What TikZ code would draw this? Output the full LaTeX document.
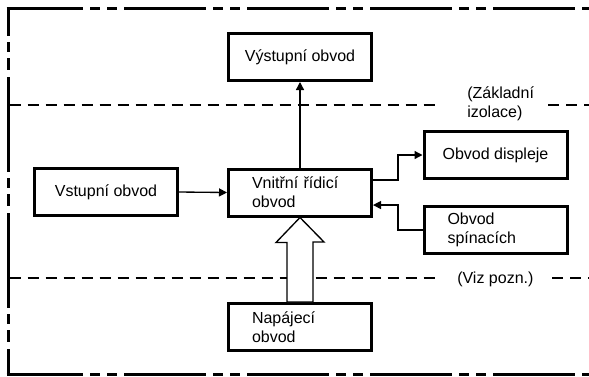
\documentclass[tikz,border=0pt]{standalone}
\usepackage{fontspec}
\setmainfont{Liberation Sans}
\usepackage{tikz}
\usetikzlibrary{arrows.meta}

\begin{document}
\begin{tikzpicture}[
      x=0.75pt, y=-0.75pt,
      every node/.style={font=\fontsize{12}{14.4}\selectfont},
      blok/.style={
        draw, line width=2.25pt, minimum width=107.25pt, minimum height=35.25pt,
        inner sep=0pt
      },
      blokdva/.style={blok, text width=72pt, align=left},
      popis/.style={inner sep=0pt, anchor=west, align=left},
      arrow/.style={line width=1pt, -{Triangle[length=6pt,width=6pt]}},
      izol/.style={line width=1.1pt, dash pattern=on 8.25pt off 5.25pt},
      ramec/.style={
        line width=2.25pt,
        dash pattern=on 61.5pt off 5.25pt on 7.5pt off 5.25pt on 7.5pt off 5.25pt,
        dash phase=4.1pt
      },
      ramecbok/.style={
        line width=2.25pt,
        dash pattern=on 71.25pt off 4.5pt on 7.5pt off 4.5pt on 9pt off 5.25pt,
        dash phase=50.25pt
      },
      dutasipka/.style={line width=1pt, fill=white}
    ]
    \useasboundingbox (0,0) rectangle (589,376);

    \node[blok] (vystup) at (300,57) {Výstupní obvod};
    \node[blokdva] (rizeni) at (300,192.5) {Vnitřní řídicí\\obvod};
    \node[blok] (vstup) at (106,192) {Vstupní obvod};
    \node[blok] (displej) at (495.5,155) {Obvod displeje};
    \node[blokdva] (spinac) at (495.5,230) {Obvod\\spínacích};
    \node[blokdva] (napajeni) at (300,327) {Napájecí\\obvod};

    \node[popis] (izolace) at (467,104) {(Základní\\izolace)};
    \node[popis] (pozn) at (457,279) {(Viz pozn.)};

    % izolacni hranice
    \draw[izol] (9.5,105) -- (438,105) (548,105) -- (589,105);
    \draw[izol] (9.5,278) -- (440,278) (552,278) -- (589,278);

    % napajeni
    \draw[dutasipka] (rizeni.south) -- ++(-24,25) -- ++(11,0)
      -- ([xshift=-9.75pt]napajeni.north) -- ([xshift=9.75pt]napajeni.north)
      -- ++(0,-60) -- ++(11,0) -- cycle;

    \draw[arrow] (vstup.east) -- (rizeni.west);
    \draw[arrow] (rizeni.north) -- (vystup.south);
    \draw[arrow] ([yshift=9.4pt]rizeni.east) -- ++(25,0) |- (displej.west);
    \draw[arrow] (spinac.west) -- ++(-24.5,0) |- ([yshift=-9.4pt]rizeni.east);

    % ramec
    \draw[ramec] (6.5,8) -- (589,8);
    \draw[ramec] (6.5,374.5) -- (589,374.5);
    \draw[ramecbok] (8,8) -- (8,376);
  \end{tikzpicture}
\end{document}
